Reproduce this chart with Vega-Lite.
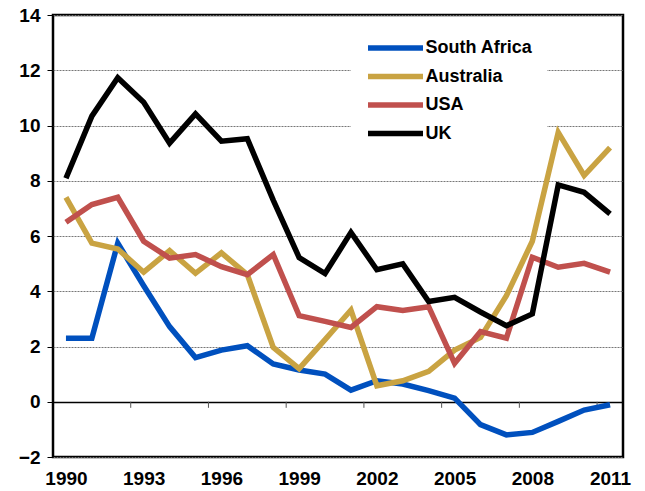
{
  "$schema": "https://vega.github.io/schema/vega-lite/v6.json",
  "autosize": {"type": "none"},
  "width": 570,
  "height": 442,
  "padding": {"left": 53, "top": 15, "right": 22, "bottom": 34},
  "background": "white",
  "config": {
    "view": {"stroke": "black", "strokeWidth": 2.5},
    "font": "Liberation Sans"
  },
  "datasets": {
    "series": [
      {"year": 1990, "country": "South Africa", "value": 2.3},
      {"year": 1991, "country": "South Africa", "value": 2.3},
      {"year": 1992, "country": "South Africa", "value": 5.74},
      {"year": 1993, "country": "South Africa", "value": 4.2},
      {"year": 1994, "country": "South Africa", "value": 2.72},
      {"year": 1995, "country": "South Africa", "value": 1.6},
      {"year": 1996, "country": "South Africa", "value": 1.87},
      {"year": 1997, "country": "South Africa", "value": 2.03},
      {"year": 1998, "country": "South Africa", "value": 1.37},
      {"year": 1999, "country": "South Africa", "value": 1.15},
      {"year": 2000, "country": "South Africa", "value": 1.0},
      {"year": 2001, "country": "South Africa", "value": 0.42},
      {"year": 2002, "country": "South Africa", "value": 0.76},
      {"year": 2003, "country": "South Africa", "value": 0.64},
      {"year": 2004, "country": "South Africa", "value": 0.4},
      {"year": 2005, "country": "South Africa", "value": 0.13},
      {"year": 2006, "country": "South Africa", "value": -0.83},
      {"year": 2007, "country": "South Africa", "value": -1.2},
      {"year": 2008, "country": "South Africa", "value": -1.11},
      {"year": 2009, "country": "South Africa", "value": -0.71},
      {"year": 2010, "country": "South Africa", "value": -0.3},
      {"year": 2011, "country": "South Africa", "value": -0.11},
      {"year": 1990, "country": "Australia", "value": 7.4},
      {"year": 1991, "country": "Australia", "value": 5.74},
      {"year": 1992, "country": "Australia", "value": 5.53},
      {"year": 1993, "country": "Australia", "value": 4.69},
      {"year": 1994, "country": "Australia", "value": 5.47},
      {"year": 1995, "country": "Australia", "value": 4.65},
      {"year": 1996, "country": "Australia", "value": 5.39},
      {"year": 1997, "country": "Australia", "value": 4.6},
      {"year": 1998, "country": "Australia", "value": 1.97},
      {"year": 1999, "country": "Australia", "value": 1.2},
      {"year": 2000, "country": "Australia", "value": 2.25},
      {"year": 2001, "country": "Australia", "value": 3.32},
      {"year": 2002, "country": "Australia", "value": 0.58},
      {"year": 2003, "country": "Australia", "value": 0.76},
      {"year": 2004, "country": "Australia", "value": 1.1},
      {"year": 2005, "country": "Australia", "value": 1.87},
      {"year": 2006, "country": "Australia", "value": 2.33},
      {"year": 2007, "country": "Australia", "value": 3.84},
      {"year": 2008, "country": "Australia", "value": 5.81},
      {"year": 2009, "country": "Australia", "value": 9.75},
      {"year": 2010, "country": "Australia", "value": 8.19},
      {"year": 2011, "country": "Australia", "value": 9.2},
      {"year": 1990, "country": "USA", "value": 6.5},
      {"year": 1991, "country": "USA", "value": 7.14},
      {"year": 1992, "country": "USA", "value": 7.4},
      {"year": 1993, "country": "USA", "value": 5.81},
      {"year": 1994, "country": "USA", "value": 5.2},
      {"year": 1995, "country": "USA", "value": 5.33},
      {"year": 1996, "country": "USA", "value": 4.89},
      {"year": 1997, "country": "USA", "value": 4.6},
      {"year": 1998, "country": "USA", "value": 5.33},
      {"year": 1999, "country": "USA", "value": 3.12},
      {"year": 2000, "country": "USA", "value": 2.91},
      {"year": 2001, "country": "USA", "value": 2.69},
      {"year": 2002, "country": "USA", "value": 3.44},
      {"year": 2003, "country": "USA", "value": 3.3},
      {"year": 2004, "country": "USA", "value": 3.44},
      {"year": 2005, "country": "USA", "value": 1.39},
      {"year": 2006, "country": "USA", "value": 2.54},
      {"year": 2007, "country": "USA", "value": 2.3},
      {"year": 2008, "country": "USA", "value": 5.23},
      {"year": 2009, "country": "USA", "value": 4.87},
      {"year": 2010, "country": "USA", "value": 5.01},
      {"year": 2011, "country": "USA", "value": 4.69},
      {"year": 1990, "country": "UK", "value": 8.09},
      {"year": 1991, "country": "UK", "value": 10.34},
      {"year": 1992, "country": "UK", "value": 11.73},
      {"year": 1993, "country": "UK", "value": 10.84},
      {"year": 1994, "country": "UK", "value": 9.36},
      {"year": 1995, "country": "UK", "value": 10.42},
      {"year": 1996, "country": "UK", "value": 9.43},
      {"year": 1997, "country": "UK", "value": 9.52},
      {"year": 1998, "country": "UK", "value": 7.3},
      {"year": 1999, "country": "UK", "value": 5.22},
      {"year": 2000, "country": "UK", "value": 4.64},
      {"year": 2001, "country": "UK", "value": 6.13},
      {"year": 2002, "country": "UK", "value": 4.78},
      {"year": 2003, "country": "UK", "value": 4.99},
      {"year": 2004, "country": "UK", "value": 3.63},
      {"year": 2005, "country": "UK", "value": 3.78},
      {"year": 2006, "country": "UK", "value": 3.25},
      {"year": 2007, "country": "UK", "value": 2.75},
      {"year": 2008, "country": "UK", "value": 3.18},
      {"year": 2009, "country": "UK", "value": 7.85},
      {"year": 2010, "country": "UK", "value": 7.58},
      {"year": 2011, "country": "UK", "value": 6.8}
    ],
    "xticks": [
      {"t": 1992.5}, {"t": 1995.5}, {"t": 1998.5}, {"t": 2001.5},
      {"t": 2004.5}, {"t": 2007.5}, {"t": 2010.5}
    ]
  },
  "layer": [
    {
      "data": {"name": "xticks"},
      "mark": {"type": "rule", "color": "#555", "strokeWidth": 1},
      "encoding": {
        "x": {"field": "t", "type": "quantitative", "scale": {"domain": [1989.5, 2011.5], "nice": false, "zero": false},
          "axis": {"values": [1990, 1993, 1996, 1999, 2002, 2005, 2008, 2011], "format": "d", "title": null, "ticks": false, "domain": false, "grid": false,
            "labelFont": "Liberation Sans", "labelFontWeight": "bold", "labelFontSize": 19, "labelColor": "black", "labelPadding": 12, "labelFlush": false}},
        "y": {"datum": 0, "type": "quantitative"},
        "y2": {"datum": -0.22}
      }
    },
    {
      "data": {"name": "series"},
      "mark": {"type": "line", "strokeWidth": 5.5, "strokeJoin": "miter"},
      "encoding": {
        "x": {"field": "year", "type": "quantitative"},
        "y": {"field": "value", "type": "quantitative",
          "scale": {"domain": [-2, 14], "nice": false, "zero": false},
          "axis": {"values": [-2, 0, 2, 4, 6, 8, 10, 12, 14], "title": null, "domain": false,
            "ticks": true, "tickSize": 6, "tickColor": "black", "tickWidth": 1,
            "grid": true,
            "gridColor": {"condition": {"test": "datum.value === 0", "value": "black"}, "value": "#777"},
            "gridDash": {"condition": {"test": "datum.value === 0", "value": []}, "value": [2, 1]},
            "gridWidth": {"condition": {"test": "datum.value === 0", "value": 1.5}, "value": 1},
            "labelFont": "Liberation Sans", "labelFontWeight": "bold", "labelFontSize": 19, "labelColor": "black", "labelPadding": 7}},
        "color": {"field": "country", "type": "nominal",
          "scale": {"domain": ["South Africa", "Australia", "USA", "UK"], "range": ["#0050BE", "#C9A342", "#C0504D", "#000000"]},
          "legend": {"title": null, "orient": "none", "legendX": 298, "legendY": 5,
            "fillColor": "white", "padding": 14, "symbolType": "M-2.5,0H2.5", "symbolSize": 484, "symbolStrokeWidth": 5.5,
            "symbolOffset": 16.5,
            "labelFont": "Liberation Sans", "labelFontWeight": "bold", "labelFontSize": 18, "labelColor": "black",
            "rowPadding": 3.5, "labelOffset": 16}}
      }
    }
  ]
}
